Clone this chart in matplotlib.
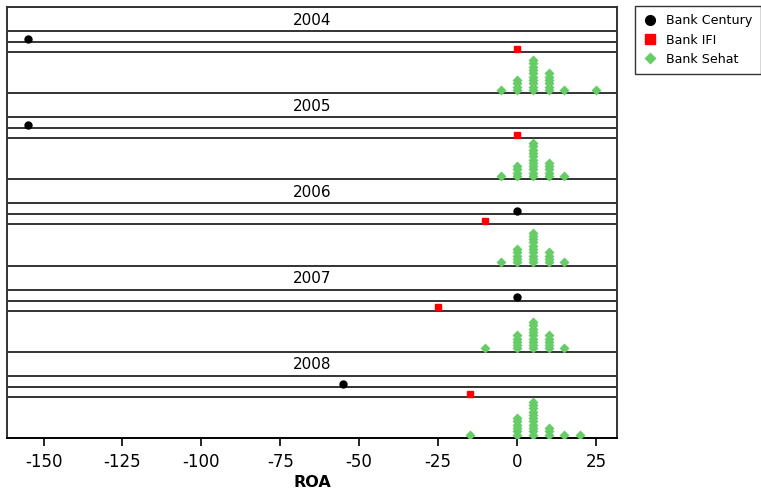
import matplotlib.pyplot as plt
import matplotlib.transforms as mtransforms
import numpy as np

plt.rcParams['font.family'] = ['DejaVu Sans']

years = ['2004', '2005', '2006', '2007', '2008']
century = [-155, -155, 0, 0, -55]
ifi = [0, 0, -10, -25, -15]

# Bank Sehat: dots per bin, one list per year
sehat_bins = [-15, -10, -5, 0, 5, 10, 15, 20, 25]
sehat_counts = {
    '2004': [0, 0, 1, 4, 10, 6, 1, 0, 1],
    '2005': [0, 0, 1, 4, 11, 5, 1, 0, 0],
    '2006': [0, 0, 1, 5, 10, 4, 1, 0, 0],
    '2007': [0, 1, 0, 5, 9, 5, 1, 0, 0],
    '2008': [1, 0, 0, 6, 11, 3, 1, 1, 0],
}

W, H = 761, 490
fig = plt.figure(figsize=(W / 100, H / 100), dpi=100)
# y axis runs in pixels, 0 at the top
ax_l, ax_r, ax_t, ax_b = 7, 617, 7, 438
ax = fig.add_axes([ax_l / W, 1 - ax_b / H, (ax_r - ax_l) / W, (ax_b - ax_t) / H])
ax.set_xlim(-161.6, 31.7)
ax.set_ylim(ax_b - ax_t, 0)
trans = mtransforms.blended_transform_factory(ax.transAxes, ax.transData)

green = '#66CC66'
line_c = '#333333'
panel_h = (ax_b - ax_t) / len(years)
strip_h, cent_h, ifi_h = 24, 11, 10
step = 3.3

for k, yr in enumerate(years):
    top = k * panel_h
    y_strip = top + strip_h
    y_cent = y_strip + cent_h
    y_ifi = y_cent + ifi_h
    y_seh = top + panel_h
    for yy in [top, y_strip, y_cent, y_ifi]:
        ax.axhline(yy, color=line_c, lw=1.4, zorder=1)
    ax.text(0.5, top + strip_h / 2 + 1, yr, transform=trans,
            ha='center', va='center', fontsize=11)
    ax.plot(century[k], y_cent - 3.2, 'o', color='black', ms=5, zorder=3)
    ax.plot(ifi[k], y_ifi - 3.3, 's', color='#FF0000', ms=5, zorder=3)
    for b, c in zip(sehat_bins, sehat_counts[yr]):
        ys = y_seh - 3.4 - step * np.arange(c)
        ax.plot([b] * c, ys, 'D', color=green, ms=4.6, mec='none', zorder=3)

ax.set_yticks([])
for s in ['left', 'right', 'top']:
    ax.spines[s].set_color(line_c)
    ax.spines[s].set_linewidth(1.4)
ax.spines['bottom'].set_color('black')
ax.spines['bottom'].set_linewidth(1.4)
ax.set_xticks([-150, -125, -100, -75, -50, -25, 0, 25])
ax.set_xticklabels(['-150', '-125', '-100', '-75', '-50', '-25', '0', '25'])
ax.tick_params(axis='x', length=6, width=1.2, labelsize=12, pad=5)
ax.set_xlabel('ROA', fontsize=11.5, fontweight='bold', labelpad=3)

# legend
h1, = ax.plot([], [], 'o', color='black', ms=7)
h2, = ax.plot([], [], 's', color='#FF0000', ms=7)
h3, = ax.plot([], [], 'D', color=green, ms=6, mec='none')
leg = fig.legend([h1, h2, h3], ['Bank Century', 'Bank IFI', 'Bank Sehat'],
                 loc='upper left', bbox_to_anchor=(635 / W, 1 - 6 / H),
                 fontsize=9.1, frameon=True, fancybox=False, handlelength=1.0,
                 handletextpad=0.8, borderpad=0.65, labelspacing=0.5, borderaxespad=0)
leg.get_frame().set_edgecolor('black')
leg.get_frame().set_linewidth(1.0)

fig.savefig('out.png', dpi=100)
